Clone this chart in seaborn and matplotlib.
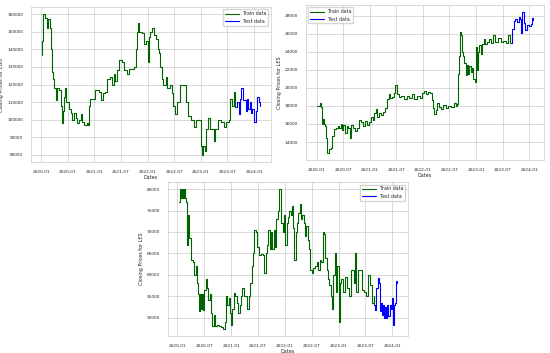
import pandas as pd
import seaborn as sns
import matplotlib
matplotlib.use('Agg')
import matplotlib.pyplot as plt
import matplotlib.dates as mdates

sns.set_style("whitegrid")

# EGO series (top left)
ego_train_dates = [
    '2020-01-05', '2020-01-09', '2020-01-14', '2020-01-16', '2020-01-25', '2020-02-08', '2020-02-19',
    '2020-02-28', '2020-03-12', '2020-03-16', '2020-03-23', '2020-03-31', '2020-04-09', '2020-04-16',
    '2020-05-02', '2020-05-15', '2020-05-22', '2020-05-29', '2020-06-05', '2020-06-14', '2020-06-23',
    '2020-07-09', '2020-07-22', '2020-08-01', '2020-08-12', '2020-08-26', '2020-09-04', '2020-09-20',
    '2020-09-29', '2020-10-10', '2020-10-24', '2020-11-09', '2020-11-18', '2020-11-23', '2020-12-04',
    '2021-01-07', '2021-02-04', '2021-02-18', '2021-03-01', '2021-03-17', '2021-03-28', '2021-04-14',
    '2021-04-28', '2021-05-13', '2021-05-25', '2021-06-06', '2021-06-19', '2021-07-09', '2021-07-25',
    '2021-08-12', '2021-08-26', '2021-09-27', '2021-10-13', '2021-10-19', '2021-10-27', '2021-11-05',
    '2021-11-24', '2021-12-09', '2021-12-18', '2022-01-01', '2022-01-10', '2022-01-19', '2022-02-01',
    '2022-02-16', '2022-03-01', '2022-03-10', '2022-03-19', '2022-03-28', '2022-04-07', '2022-04-19',
    '2022-05-03', '2022-05-16', '2022-06-04', '2022-06-15', '2022-06-26', '2022-07-07', '2022-07-22',
    '2022-08-10', '2022-09-15', '2022-09-24', '2022-10-04', '2022-10-27', '2022-11-15', '2022-11-26',
    '2022-12-18', '2022-12-30', '2023-01-06', '2023-01-18', '2023-01-27', '2023-02-07', '2023-02-19',
    '2023-03-04', '2023-03-27', '2023-04-01', '2023-04-10', '2023-04-28', '2023-05-21', '2023-06-06',
    '2023-06-24', '2023-07-12', '2023-07-21', '2023-08-02', '2023-08-13', '2023-08-22', '2023-08-28',
]
ego_train_vals = [
    137000, 145000, 155000, 160000, 158000, 152000, 157000,
    152000, 140000, 127000, 123000, 118000, 111000, 118000,
    117000, 108000, 98000, 105000, 113000, 118000, 110000,
    106000, 104000, 100000, 104000, 101000, 98000, 100000,
    103000, 99000, 97000, 98000, 97000, 108000, 112000,
    117000, 116000, 111000, 115000, 116000, 123000, 124000,
    120000, 126000, 122000, 128000, 134000, 133000, 128000,
    126000, 129000, 130000, 140000, 150000, 155000, 150000,
    149000, 143000, 145000, 133000, 147000, 150000, 152000,
    148000, 146000, 140000, 138000, 130000, 123000, 120000,
    124000, 118000, 120000, 115000, 108000, 103000, 110000,
    120000, 120000, 110000, 102000, 100000, 96000, 100000,
    100000, 85000, 80000, 85000, 82000, 95000, 101000,
    95000, 95000, 88000, 95000, 100000, 99000, 96000,
    99000, 100000, 112000, 108000, 116000, 107000, 107000,
]
ego_test_dates = [
    '2023-08-28', '2023-09-08', '2023-09-17', '2023-09-26', '2023-10-05', '2023-10-16', '2023-11-03',
    '2023-11-13', '2023-11-22', '2023-12-01', '2023-12-10', '2023-12-19', '2023-12-28', '2024-01-07',
    '2024-01-16', '2024-01-22', '2024-02-01', '2024-02-08',
]
ego_test_vals = [
    107000, 110000, 103000, 112000, 118000, 111000, 105000,
    112000, 106000, 110000, 104000, 106000, 99000, 99000,
    105000, 113000, 110000, 108000,
]

# LES series (top right)
les1_train_dates = [
    '2020-01-01', '2020-01-12', '2020-01-21', '2020-01-28', '2020-02-04', '2020-02-11', '2020-02-18',
    '2020-03-01', '2020-03-06', '2020-03-15', '2020-03-27', '2020-04-07', '2020-04-19', '2020-04-30',
    '2020-05-13', '2020-05-27', '2020-06-05', '2020-06-14', '2020-06-26', '2020-07-03', '2020-07-14',
    '2020-07-26', '2020-08-06', '2020-08-15', '2020-08-24', '2020-09-07', '2020-09-21', '2020-10-05',
    '2020-10-19', '2020-11-01', '2020-11-15', '2020-11-29', '2020-12-13', '2020-12-27', '2021-01-10',
    '2021-01-19', '2021-01-31', '2021-02-09', '2021-02-20', '2021-03-06', '2021-03-20', '2021-04-03',
    '2021-04-17', '2021-05-01', '2021-05-10', '2021-05-19', '2021-06-02', '2021-06-16', '2021-06-25',
    '2021-07-04', '2021-07-18', '2021-08-05', '2021-08-23', '2021-09-10', '2021-09-28', '2021-10-16',
    '2021-11-03', '2021-11-21', '2021-12-09', '2021-12-27', '2022-01-10', '2022-01-24', '2022-02-07',
    '2022-02-21', '2022-03-02', '2022-03-11', '2022-03-20', '2022-03-29', '2022-04-10', '2022-04-21',
    '2022-05-05', '2022-05-19', '2022-06-06', '2022-06-24', '2022-07-12', '2022-07-30', '2022-08-13',
    '2022-08-22', '2022-08-27', '2022-09-03', '2022-09-09', '2022-09-16', '2022-09-23', '2022-10-02',
    '2022-10-11', '2022-10-20', '2022-10-29', '2022-11-07', '2022-11-16', '2022-11-25', '2022-12-04',
    '2022-12-13', '2022-12-22', '2022-12-29', '2023-01-05', '2023-01-14', '2023-01-23', '2023-02-01',
    '2023-02-10', '2023-02-21', '2023-03-04', '2023-03-18', '2023-04-01', '2023-04-15', '2023-04-28',
    '2023-05-12', '2023-05-30', '2023-06-17', '2023-07-05', '2023-07-23', '2023-08-10', '2023-08-24',
    '2023-09-02',
]
les1_train_vals = [
    18000, 18000, 18300, 17900, 16000, 16500, 16000,
    15800, 14500, 12800, 13200, 13300, 14700, 15400,
    15500, 15800, 15600, 16000, 15300, 15900, 15000,
    15800, 15600, 14500, 15900, 15500, 15200, 15500,
    16400, 16200, 15800, 16300, 15900, 16200, 16800,
    16400, 17200, 17700, 16800, 17200, 17000, 17300,
    17800, 18800, 19300, 18900, 19000, 19400, 20300,
    19300, 19000, 19100, 18800, 19100, 18900, 19300,
    18800, 19100, 18900, 19400, 19600, 19300, 19500,
    19400, 18600, 17800, 17100, 17600, 18300, 17900,
    17700, 18100, 17800, 18000, 17900, 18300, 18000,
    18200, 21500, 23500, 26200, 25800, 24000, 23500,
    22800, 21400, 22500, 21500, 22400, 21800, 22200,
    21000, 20700, 24500, 22000, 24000, 24700, 23800,
    24800, 25400, 24800, 25100, 25400, 25000, 25800,
    25100, 25500, 25100, 25200, 25000, 25800, 25000,
    25000,
]
les1_test_dates = [
    '2023-09-02', '2023-09-06', '2023-09-15', '2023-09-26', '2023-10-08', '2023-10-19', '2023-10-30',
    '2023-11-08', '2023-11-15', '2023-11-24', '2023-12-03', '2023-12-14', '2023-12-28', '2024-01-09',
    '2024-01-18', '2024-01-27',
]
les1_test_vals = [
    25000, 26500, 27400, 27600, 27300, 27800, 27600,
    26100, 28400, 27200, 26400, 27000, 26900, 27100,
    27700, 27500,
]

# LES series (bottom)
les2_train_dates = [
    '2020-01-10', '2020-01-16', '2020-01-23', '2020-02-01', '2020-02-08', '2020-02-15', '2020-02-22',
    '2020-03-01', '2020-03-08', '2020-03-13', '2020-03-20', '2020-03-29', '2020-04-03', '2020-04-16',
    '2020-04-23', '2020-05-04', '2020-05-09', '2020-05-16', '2020-05-22', '2020-05-27', '2020-06-03',
    '2020-06-10', '2020-06-16', '2020-06-23', '2020-07-02', '2020-07-11', '2020-07-20', '2020-07-29',
    '2020-08-07', '2020-08-16', '2020-08-25', '2020-09-03', '2020-09-12', '2020-09-26', '2020-10-10',
    '2020-10-24', '2020-11-07', '2020-11-18', '2020-11-27', '2020-12-06', '2020-12-15', '2020-12-26',
    '2021-01-02', '2021-01-09', '2021-01-20', '2021-01-29', '2021-02-10', '2021-02-19', '2021-02-28',
    '2021-03-09', '2021-03-18', '2021-03-27', '2021-04-10', '2021-04-21', '2021-04-30', '2021-05-12',
    '2021-05-21', '2021-05-30', '2021-06-08', '2021-06-17', '2021-06-28', '2021-07-07', '2021-07-21',
    '2021-08-04', '2021-08-15', '2021-08-24', '2021-09-02', '2021-09-11', '2021-09-20', '2021-09-29',
    '2021-10-08', '2021-10-17', '2021-10-26', '2021-11-04', '2021-11-13', '2021-11-22', '2021-12-01',
    '2021-12-08', '2021-12-17', '2021-12-26', '2022-01-04', '2022-01-13', '2022-01-22', '2022-01-31',
    '2022-02-09', '2022-02-18', '2022-02-27', '2022-03-06', '2022-03-15', '2022-03-24', '2022-04-02',
    '2022-04-11', '2022-04-20', '2022-04-29', '2022-05-08', '2022-05-17', '2022-05-26', '2022-06-04',
    '2022-06-13', '2022-06-22', '2022-07-01', '2022-07-12', '2022-07-24', '2022-08-04', '2022-08-15',
    '2022-08-26', '2022-09-06', '2022-09-15', '2022-09-24', '2022-10-03', '2022-10-12', '2022-10-21',
    '2022-10-30', '2022-11-08', '2022-11-17', '2022-11-26', '2022-12-05', '2022-12-14', '2022-12-23',
    '2023-01-01', '2023-01-10', '2023-01-19', '2023-02-02', '2023-02-16', '2023-03-02', '2023-03-15',
    '2023-03-29', '2023-04-12', '2023-04-21', '2023-04-30', '2023-05-14', '2023-05-27', '2023-06-10',
    '2023-06-24', '2023-07-07', '2023-07-21', '2023-08-03', '2023-08-17', '2023-08-26', '2023-08-31',
]
les2_train_vals = [
    77000, 80000, 78000, 80000, 78000, 80000, 78000,
    77000, 67000, 74000, 68500, 68500, 63500, 63000,
    60000, 60000, 62000, 58000, 55500, 51500, 55500,
    52000, 55500, 51800, 56500, 59000, 57000, 54000,
    55500, 51000, 48000, 50500, 48000, 48200, 48000,
    47800, 47300, 49000, 55000, 53000, 54500, 51000,
    48200, 52000, 55800, 55000, 53500, 51000, 53000,
    55000, 57000, 55000, 55000, 52000, 55000, 58000,
    62000, 65000, 70500, 70000, 66500, 64500, 64800,
    64500, 60500, 65000, 67000, 70500, 66000, 70000,
    66000, 70500, 66500, 73000, 75000, 80000, 80000,
    72000, 70000, 74000, 67000, 72000, 73500, 75000,
    74000, 76000, 71000, 63500, 70000, 72000, 74500,
    76500, 73000, 74000, 72000, 69000, 71500, 68000,
    66000, 61000, 60500, 61500, 62000, 63000, 61000,
    63500, 63000, 70000, 69500, 64000, 61000, 59000,
    57500, 55000, 52000, 60000, 65000, 56000, 62000,
    49000, 58000, 59000, 56000, 59500, 57000, 55000,
    61000, 58000, 65000, 56000, 61000, 61000, 56500,
    56000, 55000, 60000, 57500, 53500, 55000, 53000,
]
les2_test_dates = [
    '2023-08-31', '2023-09-06', '2023-09-15', '2023-09-24', '2023-10-03', '2023-10-10', '2023-10-17',
    '2023-10-24', '2023-10-31', '2023-11-07', '2023-11-14', '2023-11-21', '2023-11-28', '2023-12-05',
    '2023-12-14', '2023-12-23', '2024-01-01', '2024-01-08', '2024-01-14', '2024-01-21', '2024-01-26',
    '2024-01-30',
]
les2_test_vals = [
    53000, 51800, 57000, 59300, 58000, 51500, 53500,
    50500, 53000, 50000, 52500, 50000, 53000, 50300,
    53000, 52000, 54500, 48200, 53000, 53500, 58500,
    58000,
]


def plot_panel(ax, train_dates, train_vals, test_dates, test_vals, ylabel):
    sns.lineplot(x=pd.to_datetime(train_dates), y=train_vals, ax=ax, color='darkgreen',
                 linewidth=0.8, drawstyle='steps-post', label='Train data')
    sns.lineplot(x=pd.to_datetime(test_dates), y=test_vals, ax=ax, color='blue',
                 linewidth=0.8, drawstyle='steps-post', label='Test data')
    ax.xaxis.set_major_locator(mdates.MonthLocator(bymonth=[1, 7]))
    ax.xaxis.set_major_formatter(mdates.DateFormatter('%Y-%m'))
    ax.tick_params(labelsize=3.1, pad=2)
    ax.set_xlabel('Dates', fontsize=3.5, labelpad=1)
    ax.set_ylabel(ylabel, fontsize=3.5, labelpad=2)
    for s in ax.spines.values():
        s.set_linewidth(0.5)
    ax.grid(linewidth=0.5)
    ax.legend(loc='best', fontsize=3.4, handlelength=3, frameon=True)


fig = plt.figure(figsize=(5.5, 3.53), dpi=100)
ax1 = fig.add_axes([0.056, 0.541, 0.436, 0.439])
ax2 = fig.add_axes([0.556, 0.547, 0.433, 0.439])
ax3 = fig.add_axes([0.305, 0.048, 0.436, 0.436])

plot_panel(ax1, ego_train_dates, ego_train_vals, ego_test_dates, ego_test_vals, 'Closing Prices for EGO')
plot_panel(ax2, les1_train_dates, les1_train_vals, les1_test_dates, les1_test_vals, 'Closing Prices for LES')
plot_panel(ax3, les2_train_dates, les2_train_vals, les2_test_dates, les2_test_vals, 'Closing Prices for LES')

fig.savefig('out.png', dpi=100)
